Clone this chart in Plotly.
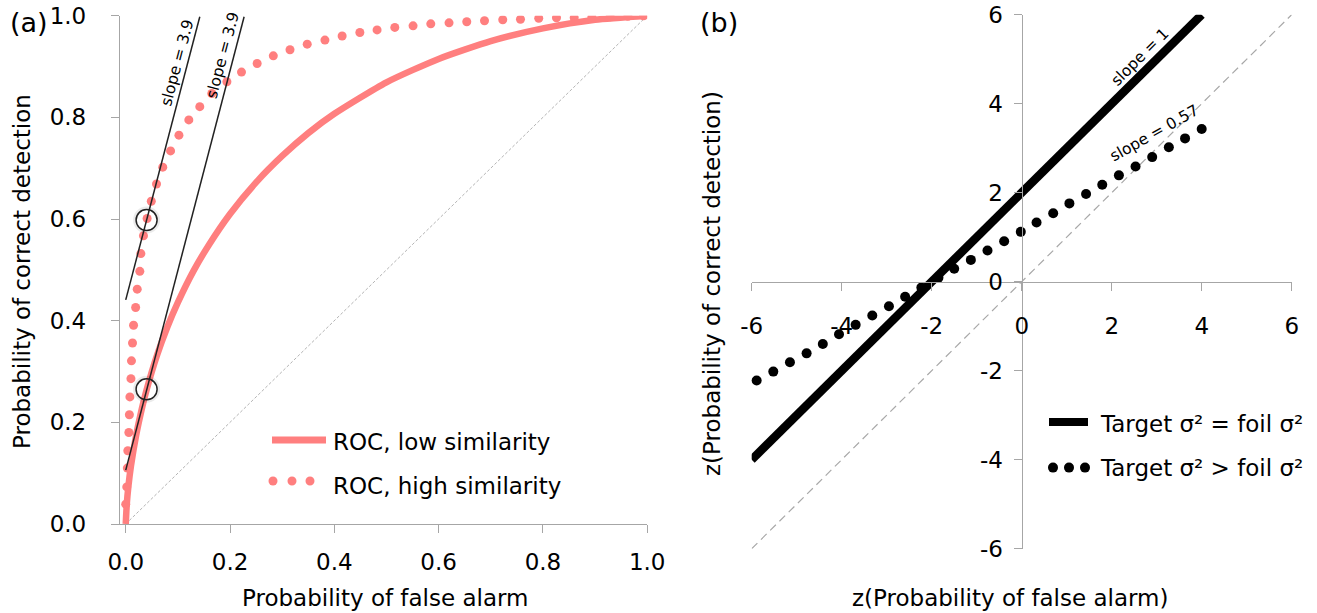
import plotly.graph_objects as go

W, H = 1317, 613
FONT = "DejaVu Sans"
SALMON = "#FF7F7F"
AXIS_GREY = "#A6A6A6"

# ---------------- panel (a): ROC space ----------------
low_far = [0.0, 0.002, 0.005, 0.01, 0.02, 0.03, 0.04, 0.06, 0.08, 0.10, 0.13, 0.16,
           0.20, 0.25, 0.30, 0.35, 0.40, 0.50, 0.60, 0.70, 0.80, 0.90, 1.0]
low_hit = [0.0, 0.039, 0.073, 0.114, 0.175, 0.223, 0.264, 0.332, 0.388, 0.436, 0.498,
           0.550, 0.610, 0.672, 0.724, 0.769, 0.807, 0.869, 0.915, 0.950, 0.975, 0.992, 1.0]

high_far = [0.000, 0.002, 0.003, 0.004, 0.006, 0.007, 0.008, 0.010, 0.011, 0.013,
            0.015, 0.019, 0.022, 0.027, 0.029, 0.034, 0.041, 0.049, 0.059, 0.071,
            0.086, 0.102, 0.121, 0.142, 0.165, 0.194, 0.222, 0.252, 0.283, 0.315,
            0.348, 0.382, 0.415, 0.449, 0.482, 0.516, 0.551, 0.585, 0.620, 0.654,
            0.688, 0.723, 0.757, 0.792, 0.826, 0.860, 0.894, 0.929, 0.963, 0.993]
high_hit = [0.039, 0.073, 0.110, 0.144, 0.180, 0.215, 0.250, 0.286, 0.321, 0.356,
            0.391, 0.426, 0.462, 0.497, 0.532, 0.567, 0.601, 0.635, 0.669, 0.702,
            0.734, 0.765, 0.795, 0.821, 0.847, 0.870, 0.889, 0.906, 0.921, 0.933,
            0.944, 0.952, 0.960, 0.967, 0.972, 0.977, 0.980, 0.984, 0.986, 0.988,
            0.990, 0.992, 0.993, 0.995, 0.996, 0.996, 0.997, 0.998, 0.999, 1.000]

# tangent lines (slope 3.9) through the marked operating points
tangent_high_far = [0.0, 0.142]
tangent_high_hit = [0.441, 0.998]
tangent_low_far = [0.0, 0.227]
tangent_low_hit = [0.106, 0.998]
marked_far = [0.040, 0.040]
marked_hit = [0.598, 0.265]

chance_a = [0.0, 1.0]
prob_ticks = [0.0, 0.2, 0.4, 0.6, 0.8, 1.0]
prob_tick_text = ["0.0", "0.2", "0.4", "0.6", "0.8", "1.0"]

# ---------------- panel (b): z-ROC space ----------------
z_far_equal = [-6.0, 4.0]
z_hit_equal = [-4.0, 6.0]
z_far_unequal = [-5.89, -5.52, -5.15, -4.78, -4.42, -4.06, -3.69, -3.32, -2.95, -2.59,
                 -2.23, -1.85, -1.50, -1.13, -0.76, -0.39, -0.02, 0.33, 0.70, 1.06,
                 1.43, 1.79, 2.16, 2.53, 2.90, 3.27, 3.63, 4.00]
z_hit_unequal = [-2.22, -2.02, -1.81, -1.61, -1.40, -1.18, -0.97, -0.76, -0.55, -0.34,
                 -0.13, 0.09, 0.29, 0.49, 0.70, 0.91, 1.12, 1.33, 1.54, 1.76,
                 1.97, 2.18, 2.39, 2.59, 2.80, 3.02, 3.22, 3.43]
chance_b = [-6.0, 6.0]
z_ticks = [-6, -4, -2, 0, 2, 4, 6]
z_tick_text = ["-6", "-4", "-2", "0", "2", "4", "6"]

legend_a = ["ROC, low similarity", "ROC, high similarity"]
legend_b = ["Target σ² = foil σ²", "Target σ² > foil σ²"]


def px(x):
    return x / W


def py(y):
    return 1 - y / H


fig = go.Figure()

# panel (a)
fig.add_trace(go.Scatter(x=chance_a, y=chance_a, mode="lines", xaxis="x", yaxis="y",
                         line=dict(color="#B4B4B4", width=1, dash="3px,2px"),
                         showlegend=False, hoverinfo="skip"))
fig.add_trace(go.Scatter(x=high_far, y=high_hit, mode="markers", xaxis="x", yaxis="y",
                         marker=dict(color=SALMON, size=9, line=dict(width=0)),
                         showlegend=False))
fig.add_trace(go.Scatter(x=low_far, y=low_hit, mode="lines", xaxis="x", yaxis="y",
                         line=dict(color=SALMON, width=6.5, shape="spline", smoothing=0.6),
                         showlegend=False))
for tx, ty in [(tangent_high_far, tangent_high_hit), (tangent_low_far, tangent_low_hit)]:
    fig.add_trace(go.Scatter(x=tx, y=ty, mode="lines", xaxis="x", yaxis="y",
                             line=dict(color="#222222", width=1.5),
                             showlegend=False, hoverinfo="skip"))
fig.add_trace(go.Scatter(x=marked_far, y=marked_hit, mode="markers", xaxis="x", yaxis="y",
                         marker=dict(size=24, color="rgba(0,0,0,0)",
                                     line=dict(color="rgba(0,0,0,0.08)", width=3)),
                         showlegend=False, hoverinfo="skip", cliponaxis=False))
fig.add_trace(go.Scatter(x=marked_far, y=marked_hit, mode="markers", xaxis="x", yaxis="y",
                         marker=dict(size=21, color="rgba(0,0,0,0)",
                                     line=dict(color="#222222", width=1.5)),
                         showlegend=False, cliponaxis=False))

# panel (b)
fig.add_trace(go.Scatter(x=chance_b, y=chance_b, mode="lines", xaxis="x2", yaxis="y2",
                         line=dict(color="#A8A8A8", width=1.2, dash="8px,5px"),
                         showlegend=False, hoverinfo="skip"))
fig.add_trace(go.Scatter(x=z_far_equal, y=z_hit_equal, mode="lines", xaxis="x2", yaxis="y2",
                         line=dict(color="black", width=8.5), showlegend=False))
fig.add_trace(go.Scatter(x=z_far_unequal, y=z_hit_unequal, mode="markers", xaxis="x2", yaxis="y2",
                         marker=dict(color="black", size=10, line=dict(width=0)),
                         showlegend=False, cliponaxis=False))

axis_common = dict(showline=True, linecolor=AXIS_GREY, linewidth=1.3, ticks="outside",
                   ticklen=8, tickwidth=1.3, tickcolor=AXIS_GREY, showgrid=False,
                   zeroline=False, tickfont=dict(family=FONT, size=23, color="black"),
                   fixedrange=True, automargin=False)

fig.update_layout(
    width=W, height=H, margin=dict(l=0, r=0, t=0, b=0, autoexpand=False),
    paper_bgcolor="white", plot_bgcolor="white",
    font=dict(family=FONT, size=23, color="black"),
    xaxis=dict(domain=[px(120), px(647.2)], range=[-0.011, 1.0], anchor="y",
               tickvals=prob_ticks, ticktext=prob_tick_text, ticklabelstandoff=9,
               **axis_common),
    yaxis=dict(domain=[py(524), py(15.7)], range=[0, 1], anchor="x",
               tickvals=prob_ticks, ticktext=prob_tick_text, ticklabelstandoff=20,
               **axis_common),
    xaxis2=dict(domain=[px(751.7), px(1291.7)], range=[-6, 6], anchor="free",
                position=py(281.7), tickvals=z_ticks, ticktext=z_tick_text,
                ticklabelstandoff=16, **axis_common),
    yaxis2=dict(domain=[py(548.7), py(14.7)], range=[-6, 6], anchor="free",
                position=px(1021.7), tickvals=z_ticks, ticktext=z_tick_text,
                ticklabelstandoff=6, **axis_common),
)

annotations = []


def text(x, y, s, size=23, xref="paper", yref="paper", angle=0, xanchor="center"):
    annotations.append(dict(x=x, y=y, xref=xref, yref=yref, text=s, showarrow=False,
                            textangle=angle, xanchor=xanchor, yanchor="middle",
                            font=dict(family=FONT, size=size, color="black")))


# panel letters and axis titles
text(px(29), py(22), "(a)", size=27)
text(px(719), py(22), "(b)", size=27)
text(px(22), py(272), "Probability of correct detection", angle=-90)
text(px(385), py(598), "Probability of false alarm")
text(px(712), py(284), "z(Probability of correct detection)", angle=-90)
text(px(1010), py(598), "z(Probability of false alarm)")

# slope labels
text(0.100, 0.908, "slope = 3.9", size=15.5, xref="x", yref="y", angle=-75)
text(0.186, 0.923, "slope = 3.9", size=15.5, xref="x", yref="y", angle=-75)
text(2.63, 5.05, "slope = 1", size=15.5, xref="x2", yref="y2", angle=-45)
text(2.96, 3.34, "slope = 0.57", size=15.5, xref="x2", yref="y2", angle=-29.4)

# legends
text(px(331), py(442), legend_a[0], xanchor="left")
text(px(331), py(486), legend_a[1], xanchor="left")
text(px(1098), py(424), legend_b[0], xanchor="left")
text(px(1098), py(468), legend_b[1], xanchor="left")

shapes = [
    dict(type="line", xref="paper", yref="paper", x0=px(272), x1=px(326),
         y0=py(440), y1=py(440), line=dict(color=SALMON, width=7)),
    dict(type="line", xref="paper", yref="paper", x0=px(1049), x1=px(1088),
         y0=py(422), y1=py(422), line=dict(color="black", width=8)),
]
for cx in (273, 292, 310):
    shapes.append(dict(type="circle", xref="paper", yref="paper",
                       x0=px(cx - 4.5), x1=px(cx + 4.5), y0=py(481 + 4.5), y1=py(481 - 4.5),
                       fillcolor=SALMON, line=dict(width=0)))
for cx in (1053, 1069, 1085):
    shapes.append(dict(type="circle", xref="paper", yref="paper",
                       x0=px(cx - 5), x1=px(cx + 5), y0=py(467.6 + 5), y1=py(467.6 - 5),
                       fillcolor="black", line=dict(width=0)))

fig.update_layout(annotations=annotations, shapes=shapes)

# the page should hold the figure edge to edge
page_css = ("document.documentElement.style.margin='0';"
            "document.body.style.margin='0';"
            "document.body.style.overflow='hidden';")
fig.write_html("out.html", config={"responsive": False}, post_script=page_css)
